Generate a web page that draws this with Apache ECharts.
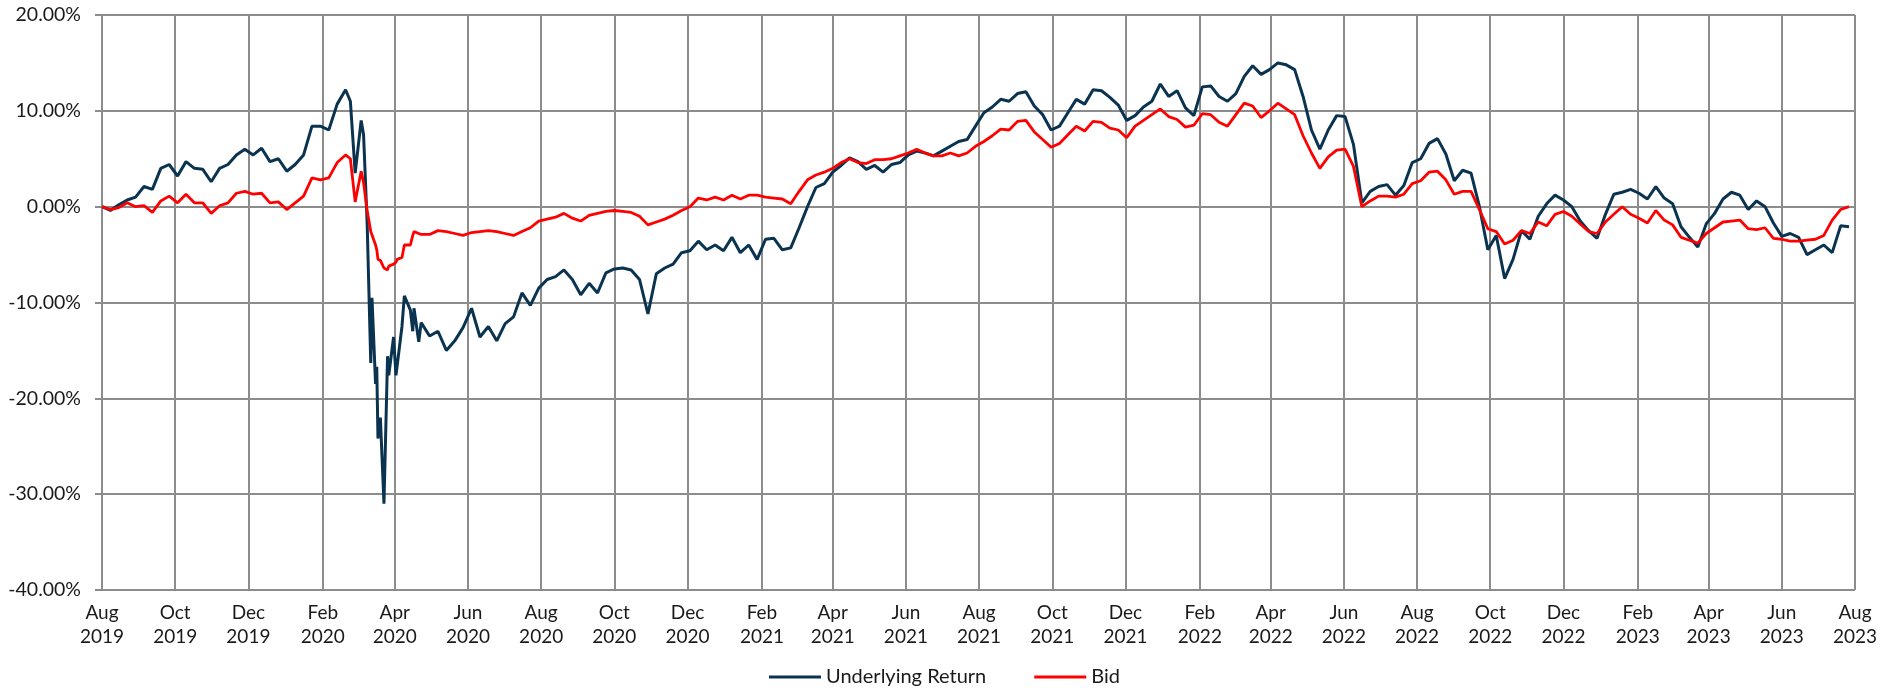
<!DOCTYPE html>
<html>
<head>
<meta charset="utf-8">
<title>Underlying Return vs Bid</title>
<script src="https://cdn.jsdelivr.net/npm/echarts@6/dist/echarts.min.js"></script>
<style>
    html, body { margin: 0; padding: 0; background: #fff; }
    #chart { width: 1889px; height: 694px; }
</style>
</head>
<body>
<div id="chart"></div>
<script>
// axis range (daily categories)
const startDate = '2019-08-01';
const endDate = '2023-08-01';
const monthNames = ['Jan', 'Feb', 'Mar', 'Apr', 'May', 'Jun', 'Jul', 'Aug', 'Sep', 'Oct', 'Nov', 'Dec'];
const yMin = -40, yMax = 20, yStep = 10;

// weekly readings (%), one per week from startDate
const underlyingWeekly = [
    0.0, -0.4, 0.2, 0.7, 1.0, 2.1, 1.8, 4.0, 4.4, 3.2,
    4.7, 4.0, 3.9, 2.6, 4.0, 4.4, 5.4, 6.0, 5.4, 6.1,
    4.7, 5.0, 3.7, 4.4, 5.4, 8.4, 8.4, 8.0, 10.7, 12.2,
    5.0, 8.5, -16.3, -20.0, -15.6, -17.6, -9.3, -13.0, -12.1, -13.5,
    -13.0, -15.0, -14.0, -12.6, -10.6, -13.6, -12.5, -14.0, -12.2, -11.5,
    -9.0, -10.3, -8.5, -7.6, -7.3, -6.6, -7.6, -9.2, -8.0, -9.0,
    -6.9, -6.5, -6.4, -6.6, -7.6, -11.2, -7.0, -6.4, -6.0, -4.8,
    -4.6, -3.6, -4.5, -4.0, -4.6, -3.2, -4.8, -4.0, -5.5, -3.4,
    -3.3, -4.5, -4.3, -2.2, 0.0, 2.0, 2.4, 3.6, 4.3, 5.1,
    4.7, 3.9, 4.3, 3.6, 4.4, 4.6, 5.4, 5.8, 5.6, 5.3,
    5.8, 6.3, 6.8, 7.0, 8.4, 9.8, 10.4, 11.2, 11.0, 11.8,
    12.0, 10.5, 9.6, 8.0, 8.4, 9.8, 11.2, 10.7, 12.2, 12.1,
    11.4, 10.6, 9.0, 9.5, 10.4, 11.0, 12.8, 11.5, 12.1, 10.3,
    9.5, 12.5, 12.6, 11.5, 11.0, 11.8, 13.6, 14.7, 13.8, 14.3,
    15.0, 14.8, 14.3, 11.5, 8.0, 6.0, 8.0, 9.5, 9.4, 6.5,
    0.4, 1.6, 2.1, 2.3, 1.2, 2.2, 4.6, 5.0, 6.6, 7.1,
    5.5, 2.7, 3.8, 3.5, 0.0, -4.5, -3.0, -7.5, -5.5, -2.5,
    -3.4, -1.0, 0.3, 1.2, 0.7, 0.0, -1.5, -2.5, -3.3, -0.8,
    1.3, 1.5, 1.8, 1.4, 0.8, 2.1, 0.9, 0.3, -2.1, -3.2,
    -4.2, -1.8, -0.7, 0.8, 1.5, 1.2, -0.3, 0.6, 0.0, -1.7,
    -3.1, -2.8, -3.2, -5.0, -4.5, -4.0, -4.8, -2.0, -2.1
];
const bidWeekly = [
    0.0, -0.3, -0.1, 0.4, 0.0, 0.1, -0.6, 0.6, 1.1, 0.4,
    1.3, 0.4, 0.4, -0.7, 0.1, 0.4, 1.4, 1.6, 1.3, 1.4,
    0.4, 0.5, -0.3, 0.4, 1.1, 3.0, 2.8, 3.0, 4.6, 5.4,
    2.0, 3.5, -2.6, -5.0, -6.5, -5.8, -4.0, -3.0, -2.9, -2.9,
    -2.5, -2.6, -2.8, -3.0, -2.7, -2.6, -2.5, -2.6, -2.8, -3.0,
    -2.6, -2.2, -1.5, -1.3, -1.1, -0.7, -1.2, -1.5, -0.9, -0.7,
    -0.5, -0.4, -0.5, -0.6, -1.0, -1.9, -1.6, -1.3, -0.9, -0.4,
    0.0, 0.9, 0.7, 1.0, 0.7, 1.2, 0.8, 1.2, 1.2, 1.0,
    0.9, 0.8, 0.3, 1.6, 2.8, 3.3, 3.6, 4.0, 4.6, 5.0,
    4.6, 4.5, 4.9, 4.9, 5.0, 5.3, 5.6, 6.0, 5.6, 5.3,
    5.3, 5.6, 5.3, 5.6, 6.3, 6.8, 7.4, 8.1, 8.0, 8.9,
    9.0, 7.8, 7.0, 6.2, 6.6, 7.5, 8.4, 7.9, 8.9, 8.8,
    8.2, 8.0, 7.2, 8.4, 9.0, 9.6, 10.2, 9.4, 9.1, 8.3,
    8.5, 9.7, 9.6, 8.8, 8.4, 9.6, 10.8, 10.5, 9.3, 10.0,
    10.8, 10.2, 9.6, 7.4, 5.6, 4.0, 5.2, 5.9, 6.0, 4.2,
    0.0, 0.6, 1.1, 1.1, 1.0, 1.3, 2.4, 2.7, 3.6, 3.7,
    2.8, 1.3, 1.6, 1.6, -0.3, -2.3, -2.6, -3.9, -3.5, -2.5,
    -2.8, -1.6, -2.0, -0.8, -0.5, -1.0, -1.8, -2.6, -2.8, -1.6,
    -0.8, 0.0, -0.8, -1.2, -1.7, -0.4, -1.4, -1.9, -3.2, -3.5,
    -3.8, -2.8, -2.2, -1.6, -1.5, -1.4, -2.3, -2.4, -2.2, -3.3,
    -3.4, -3.6, -3.6, -3.5, -3.4, -3.0, -1.4, -0.3, 0.0
];

// finer readings through the March 2020 sell-off (replace the weekly ones in this window)
const crashDates = [
    '2020-02-24', '2020-02-28', '2020-03-04', '2020-03-06', '2020-03-09', '2020-03-12',
    '2020-03-13', '2020-03-16', '2020-03-17', '2020-03-18', '2020-03-20', '2020-03-23',
    '2020-03-26', '2020-03-27', '2020-03-31', '2020-04-02', '2020-04-03', '2020-04-07',
    '2020-04-09', '2020-04-14', '2020-04-16', '2020-04-17', '2020-04-21'
];
const crashUnderlying = [
    11.0, 3.5, 9.0, 7.5, -1.8, -16.3,
    -9.5, -18.5, -16.7, -24.2, -22.0, -31.0,
    -15.6, -17.6, -13.6, -17.6, -17.4, -12.5,
    -9.3, -10.8, -13.0, -10.6, -14.1
];
const crashBid = [
    5.0, 0.5, 3.7, 2.5, -0.4, -2.6,
    -2.8, -4.0, -4.5, -5.5, -5.6, -6.4,
    -6.6, -6.2, -6.0, -5.8, -5.5, -5.3,
    -4.0, -4.0, -3.0, -2.6, -2.8
];

function fmt(d) {
    return d.toISOString().slice(0, 10);
}

// one category per calendar day
const days = [];
for (let d = new Date(startDate + 'T00:00:00Z'); fmt(d) <= endDate; d.setUTCDate(d.getUTCDate() + 1)) {
    days.push(fmt(d));
}

function buildSeries(weekly, crash) {
    const first = crashDates[0], last = crashDates[crashDates.length - 1];
    const pts = [];
    weekly.forEach((v, k) => {
        const day = days[k * 7];
        if (day >= first && day <= last) return;
        pts.push([day, v]);
    });
    crashDates.forEach((day, i) => pts.push([day, crash[i]]));
    pts.sort((a, b) => (a[0] < b[0] ? -1 : 1));
    return pts;
}

// gridlines and labels on the 1st of every second month (Aug, Oct, Dec, ...)
function isMajor(index, value) {
    const m = +value.slice(5, 7);
    return value.slice(8) === '01' && m % 2 === 0;
}

const gridColor = '#8c8c8c';
const textColor = '#1a1a1a';

const option = {
    animation: false,
    grid: {
        left: 102,
        right: 34,
        top: 15,
        bottom: 104,
        containLabel: false
    },
    legend: {
        bottom: 2,
        left: 'center',
        icon: 'rect',
        itemWidth: 52,
        itemHeight: 3,
        itemGap: 48,
        textStyle: {
            fontFamily: 'Lato',
            fontSize: 20,
            color: textColor
        },
        data: ['Underlying Return', 'Bid']
    },
    xAxis: {
        type: 'category',
        data: days,
        boundaryGap: false,
        axisLine: {
            show: true,
            lineStyle: { color: gridColor, width: 2 }
        },
        axisTick: { show: false },
        axisLabel: {
            interval: isMajor,
            margin: 11,
            fontFamily: 'Lato',
            fontSize: 19,
            lineHeight: 24,
            color: textColor,
            formatter: function (value) {
                return monthNames[+value.slice(5, 7) - 1] + '\n' + value.slice(0, 4);
            }
        },
        splitLine: {
            show: true,
            interval: isMajor,
            lineStyle: { color: gridColor, width: 2 }
        }
    },
    yAxis: {
        type: 'value',
        min: yMin,
        max: yMax,
        interval: yStep,
        axisLine: {
            show: true,
            lineStyle: { color: gridColor, width: 2 }
        },
        axisTick: {
            show: true,
            length: 7,
            lineStyle: { color: gridColor, width: 2 }
        },
        axisLabel: {
            margin: 21,
            fontFamily: 'Lato',
            fontSize: 19.5,
            color: textColor,
            formatter: function (v) {
                return v.toFixed(2) + '%';
            }
        },
        splitLine: {
            show: true,
            lineStyle: { color: gridColor, width: 2 }
        }
    },
    series: [
        {
            name: 'Underlying Return',
            type: 'line',
            data: buildSeries(underlyingWeekly, crashUnderlying),
            showSymbol: false,
            color: '#0a3350',
            lineStyle: { width: 3, color: '#0a3350' }
        },
        {
            name: 'Bid',
            type: 'line',
            data: buildSeries(bidWeekly, crashBid),
            showSymbol: false,
            color: '#ff0000',
            lineStyle: { width: 2.8, color: '#ff0000' }
        }
    ]
};

const myChart = echarts.init(document.getElementById('chart'));
myChart.setOption(option);
</script>
</body>
</html>
